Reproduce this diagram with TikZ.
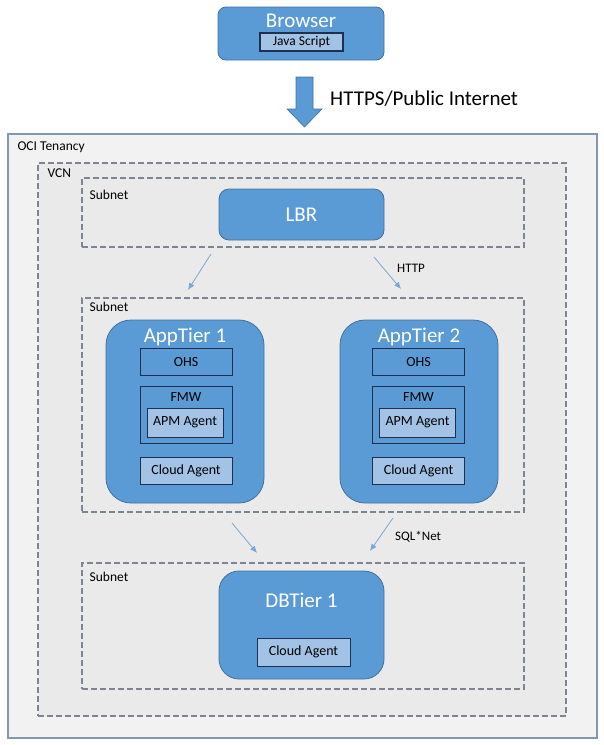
\documentclass[tikz,border=0pt]{standalone}
\usepackage{fontspec}
\setmainfont{Carlito}
\usepackage{tikz}
\usetikzlibrary{calc,positioning,arrows.meta}
\definecolor{tierblue}{HTML}{5B9BD5}
\definecolor{tierline}{HTML}{41719C}
\definecolor{boxline}{HTML}{1F2F4F}
\definecolor{agentfill}{HTML}{A2C2E6}
\definecolor{tenfill}{HTML}{F2F2F2}
\definecolor{vcnfill}{HTML}{EAEAEA}
\definecolor{tenline}{HTML}{8497B0}
\definecolor{dashline}{HTML}{7D8592}
\definecolor{linkblue}{HTML}{7BA7D4}
\tikzset{
x=1pt, y=-1pt, % pixel grid of the reference, y downwards
tier/.style={draw=tierline, fill=tierblue, line width=0.8pt, inner sep=0pt}, % blue hosts
tiertitle/.style={text=white, font=\fontsize{21}{21}\selectfont, inner sep=0pt}, % white names
part/.style={draw=boxline, fill=tierblue, line width=1pt, inner sep=0pt, font=\fontsize{14}{14}\selectfont}, % OHS, FMW
agent/.style={part, fill=agentfill}, % agents
zone/.style={draw=dashline, fill=vcnfill, dash pattern=on 6pt off 3pt, line width=1.1pt, inner sep=0pt}, % VCN, subnets
tag/.style={font=\fontsize{13.5}{13.5}\selectfont, inner sep=0pt, anchor=north west}, % corner labels
link/.style={draw=linkblue, line width=0.8pt, -{Latex[length=7pt,width=6pt]}}, % traffic
}

\begin{document}
\begin{tikzpicture}
	\useasboundingbox (0,0) rectangle (603,745);
	% tenancy, vcn, subnets
	\node[draw=tenline, fill=tenfill, line width=1.3pt, inner sep=0pt, minimum width=589, minimum height=604] (ten) at (302.5,436) {};
	\node[tag] at ($(ten.north west)+(10,8)$) {OCI Tenancy};
	\node[zone, minimum width=528, minimum height=553] (vcn) at (302,439.5) {};
	\node[tag] at ($(vcn.north west)+(10,6)$) {VCN};
	\node[zone, minimum width=442, minimum height=69] (sub1) at (303,212.5) {};
	\node[tag] at ($(sub1.north west)+(8,12)$) {Subnet};
	\node[zone, minimum width=442, minimum height=214] (sub2) at (303,405) {};
	\node[tag] at ($(sub2.north west)+(8,4)$) {Subnet};
	\node[zone, minimum width=442, minimum height=126] (sub3) at (303,626) {};
	\node[tag] at ($(sub3.north west)+(8,9)$) {Subnet};

	% browser and internet arrow
	\node[tier, rounded corners=8pt, minimum width=166, minimum height=53] (browser) at (301,33.5) {};
	\node[tiertitle] at (301,21) {Browser};
	\node[agent, line width=1.1pt, minimum width=83, minimum height=18, font=\fontsize{13.5}{13.5}\selectfont] (js) at (301.5,42) {Java Script};
	\filldraw[fill=tierblue, draw=tierline, line width=0.6pt] (296,77) -- (313,77) -- (313,109) -- (322,109) -- (304.5,127) -- (287,109) -- (296,109) -- cycle;
	\node[anchor=west, inner sep=0pt, font=\fontsize{21}{21}\selectfont] (inet) at (330,99) {HTTPS/Public Internet};

	% load balancer
	\node[tier, rounded corners=10pt, minimum width=165, minimum height=51] (lbr) at (301.5,214.5) {};
	\node[tiertitle] at (lbr) {LBR};

	% app tiers
	\foreach \n/\cx/\ix in {1/185/186, 2/419/418.5} {
		\node[tier, rounded corners=25pt, minimum width=158, minimum height=183] (app\n) at (\cx,411.5) {};
		\node[tiertitle] at (\cx,337) {AppTier \n};
		\node[part, minimum width=92, minimum height=27] (ohs\n) at (\ix,361.5) {OHS};
		\node[part, minimum width=92, minimum height=57] (fmw\n) at (\ix,414.5) {};
		\node[inner sep=0pt, font=\fontsize{14}{14}\selectfont] at (\ix,397) {FMW};
		\node[agent, minimum width=76, minimum height=29] (apm\n) at (\ix-1,422.5) {APM Agent};
		\node[agent, minimum width=92, minimum height=27] (ca\n) at (\ix,470.5) {Cloud Agent};
	}

	% db tier
	\node[tier, rounded corners=20pt, minimum width=165, minimum height=108] (db) at (301.5,625) {};
	\node[tiertitle] at (301.5,600) {DBTier 1};
	\node[agent, minimum width=93, minimum height=28] (cadb) at (303.5,652) {Cloud Agent};

	% traffic
	\coordinate (h1s) at (211,254);
	\coordinate (h1e) at (188,290);
	\coordinate (h2s) at (374,257);
	\coordinate (h2e) at (401,289);
	\coordinate (s1s) at (232,523);
	\coordinate (s1e) at (257,553);
	\coordinate (s2s) at (393,518);
	\coordinate (s2e) at (370,551);
	\draw[link] (h1s) -- (h1e);
	\draw[link] (h2s) -- (h2e);
	\draw[link] (s1s) -- (s1e);
	\draw[link] (s2s) -- (s2e);
	\node[anchor=west, inner sep=0pt, font=\fontsize{13}{13}\selectfont] (http) at (397,268) {HTTP};
	\node[anchor=west, inner sep=0pt, font=\fontsize{13}{13}\selectfont] (sql) at (395,537) {SQL*Net};
\end{tikzpicture}
\end{document}
